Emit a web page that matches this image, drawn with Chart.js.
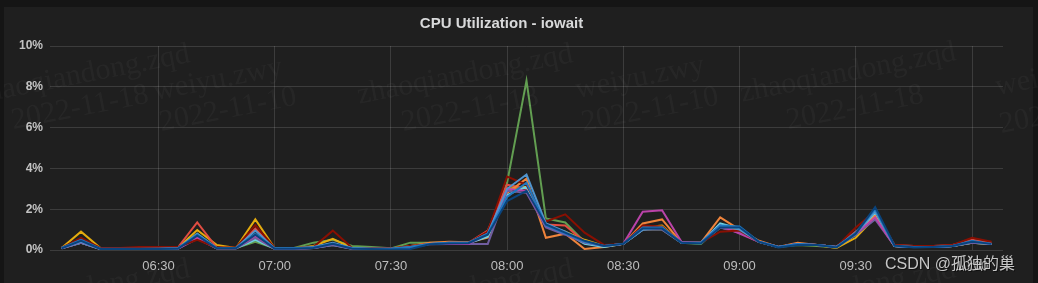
<!DOCTYPE html>
<html>
<head>
<meta charset="utf-8">
<title>CPU Utilization - iowait</title>
<script src="https://cdn.jsdelivr.net/npm/chart.js@4.4.1/dist/chart.umd.min.js"></script>
<style>
  html, body { margin: 0; padding: 0; background: #151515; }
  canvas { display: block; }
</style>
</head>
<body>
<canvas id="chart" width="1038" height="283"></canvas>
<script>
// ── data (5 minute samples, percent) ──────────────
const times = [
  '06:05','06:10','06:15','06:20','06:25','06:30','06:35','06:40','06:45','06:50',
  '06:55','07:00','07:05','07:10','07:15','07:20','07:25','07:30','07:35','07:40',
  '07:45','07:50','07:55','08:00','08:05','08:10','08:15','08:20','08:25','08:30',
  '08:35','08:40','08:45','08:50','08:55','09:00','09:05','09:10','09:15','09:20',
  '09:25','09:30','09:35','09:40','09:45','09:50','09:55','10:00','10:05'
];
const tickLabels = ['06:30','07:00','07:30','08:00','08:30','09:00','09:30','10:00'];
const yTicks = [0, 2, 4, 6, 8, 10];

const hostA = [0.08,0.45,0.05,0.05,0.05,0.05,0.06,0.70,0.08,0.08,0.75,0.06,0.06,0.10,0.30,0.06,0.05,0.03,0.05,0.28,0.32,0.33,0.75,2.40,2.90,1.25,0.85,0.45,0.20,0.30,1.05,1.05,0.35,0.32,1.10,1.10,0.40,0.12,0.25,0.25,0.12,0.80,2.10,0.22,0.12,0.15,0.20,0.40,0.30];
const hostB = [0.10,0.50,0.06,0.06,0.06,0.06,0.08,0.75,0.10,0.10,0.80,0.08,0.08,0.12,0.30,0.08,0.06,0.06,0.15,0.30,0.35,0.35,0.80,2.60,3.30,1.20,0.80,0.40,0.20,0.30,1.10,1.10,0.35,0.35,1.20,1.15,0.40,0.15,0.30,0.25,0.15,0.85,2.00,0.20,0.15,0.15,0.20,0.45,0.30];
const hostC = [0.10,0.40,0.05,0.05,0.05,0.06,0.08,0.80,0.10,0.10,0.95,0.08,0.08,0.15,0.35,0.10,0.06,0.06,0.15,0.30,0.35,0.35,0.80,3.00,3.70,1.30,0.90,0.40,0.20,0.30,1.00,1.10,0.35,0.35,1.20,1.00,0.40,0.15,0.30,0.25,0.15,0.80,1.90,0.20,0.15,0.15,0.20,0.40,0.30];
const hostD = [0.10,0.60,0.10,0.10,0.15,0.15,0.15,0.50,0.12,0.12,1.22,0.10,0.10,0.15,0.95,0.10,0.08,0.08,0.20,0.30,0.35,0.35,0.90,3.60,3.20,1.40,1.75,0.85,0.25,0.30,1.20,1.15,0.35,0.35,0.90,0.95,0.40,0.15,0.30,0.25,0.15,1.10,1.90,0.25,0.20,0.20,0.25,0.60,0.40];
const hostE = [0.10,0.35,0.06,0.06,0.06,0.06,0.08,0.80,0.10,0.10,0.40,0.08,0.10,0.36,0.50,0.20,0.15,0.08,0.36,0.35,0.35,0.35,0.70,3.30,8.30,1.55,1.35,0.40,0.20,0.30,1.00,1.00,0.35,0.30,1.10,1.00,0.40,0.15,0.25,0.20,0.12,0.80,1.80,0.20,0.15,0.15,0.20,0.35,0.30];
const hostF = [0.10,0.90,0.10,0.08,0.08,0.08,0.10,0.98,0.25,0.10,1.50,0.08,0.08,0.20,0.55,0.10,0.06,0.06,0.15,0.30,0.35,0.35,0.70,3.00,3.10,1.20,0.90,0.50,0.20,0.30,1.10,1.20,0.35,0.35,1.20,1.00,0.40,0.15,0.30,0.25,0.10,0.60,1.60,0.20,0.15,0.15,0.20,0.35,0.30];
const hostG = [0.10,0.50,0.05,0.05,0.08,0.10,0.12,1.35,0.12,0.10,1.05,0.08,0.08,0.12,0.30,0.08,0.06,0.06,0.15,0.30,0.35,0.35,0.95,3.20,3.00,1.25,1.20,0.40,0.20,0.30,1.20,1.10,0.35,0.35,1.10,0.90,0.40,0.15,0.30,0.25,0.15,0.90,1.70,0.25,0.20,0.20,0.25,0.50,0.35];
const hostH = [0.10,0.40,0.05,0.05,0.05,0.06,0.08,0.60,0.10,0.10,0.57,0.08,0.08,0.12,0.30,0.08,0.06,0.08,0.20,0.35,0.40,0.38,0.60,2.80,3.50,0.60,0.80,0.05,0.15,0.30,1.30,1.50,0.35,0.35,1.60,1.00,0.45,0.15,0.35,0.25,0.15,0.80,1.70,0.20,0.15,0.15,0.20,0.40,0.30];
const hostI = [0.08,0.40,0.05,0.05,0.05,0.05,0.06,0.60,0.08,0.08,0.70,0.06,0.06,0.10,0.30,0.06,0.05,0.05,0.12,0.30,0.30,0.30,0.80,3.00,2.90,1.20,0.80,0.40,0.20,0.30,1.88,1.95,0.40,0.35,1.20,0.80,0.40,0.15,0.30,0.25,0.15,0.80,1.60,0.20,0.15,0.15,0.20,0.40,0.30];
const hostJ = [0.08,0.35,0.05,0.05,0.05,0.05,0.06,0.55,0.08,0.08,0.60,0.06,0.06,0.10,0.25,0.06,0.05,0.05,0.12,0.28,0.30,0.30,0.30,2.90,2.80,1.10,0.75,0.35,0.20,0.30,1.00,1.00,0.35,0.35,1.10,0.85,0.40,0.15,0.30,0.25,0.15,0.75,1.50,0.20,0.15,0.15,0.20,0.35,0.30];
const hostK = [0.08,0.35,0.05,0.05,0.05,0.05,0.06,0.65,0.08,0.08,0.50,0.06,0.06,0.10,0.25,0.06,0.05,0.05,0.12,0.30,0.33,0.33,0.65,2.70,3.10,1.15,0.85,0.30,0.15,0.30,1.00,1.05,0.35,0.33,1.30,1.05,0.40,0.15,0.30,0.25,0.15,0.75,1.85,0.20,0.15,0.15,0.20,0.35,0.30];

const series = [
  { name: 'host-a', color: '#0A437C', data: hostA },
  { name: 'host-b', color: '#1F78C1', data: hostB },
  { name: 'host-c', color: '#5195CE', data: hostC },
  { name: 'host-d', color: '#890F02', data: hostD },
  { name: 'host-i', color: '#BA43A9', data: hostI },
  { name: 'host-j', color: '#705DA0', data: hostJ },
  { name: 'host-k', color: '#6ED0E0', data: hostK },
  { name: 'host-h', color: '#EF843C', data: hostH },
  { name: 'host-g', color: '#E24D42', data: hostG },
  { name: 'host-f', color: '#E5AC0E', data: hostF },
  { name: 'host-e', color: '#629E51', data: hostE },
];

const toMin = t => { const [h, m] = t.split(':').map(Number); return h * 60 + m; };
const fromMin = v => String(Math.floor(v / 60)).padStart(2, '0') + ':' + String(v % 60).padStart(2, '0');

// panel background + faint watermark + CSDN signature
const panel = {
  id: 'panel',
  beforeDraw(chart) {
    const c = chart.ctx;
    c.save();
    c.fillStyle = '#151515';
    c.fillRect(0, 0, chart.width, chart.height);
    c.fillStyle = '#1f1f1f';
    c.fillRect(4, 7, 1029, chart.height);
    c.restore();
  },
  afterDraw(chart) {
    const c = chart.ctx;
    c.save();
    c.font = '30px "Liberation Serif", serif';
    c.fillStyle = 'rgba(255,255,255,0.035)';
    c.textAlign = 'center';
    c.textBaseline = 'middle';
    const marks = [
      ['zhaoqiandong.zqd', 82, 75], ['2022-11-18', 80, 108],
      ['weiyu.zwy', 218, 80], ['2022-11-10', 228, 110],
      ['zhaoqiandong.zqd', 465, 75], ['2022-11-18', 470, 110],
      ['weiyu.zwy', 640, 78], ['2022-11-10', 650, 110],
      ['zhaoqiandong.zqd', 848, 73], ['2022-11-18', 855, 108],
      ['weiyu.zwy', 1060, 75], ['2022-11-10', 1068, 112],
      ['zhaoqiandong.zqd', 82, 290], ['zhaoqiandong.zqd', 465, 290], ['zhaoqiandong.zqd', 848, 290],
    ];
    marks.forEach(([t, x, y]) => {
      c.save();
      c.translate(x, y);
      c.rotate(-11 * Math.PI / 180);
      c.fillText(t, 0, 0);
      c.restore();
    });
    c.font = '16px "Liberation Sans", "Noto Sans CJK SC", sans-serif';
    c.textAlign = 'left';
    c.fillStyle = 'rgba(0,0,0,0.5)';
    c.fillText('CSDN @孤独的巢', 886, 266);
    c.fillStyle = 'rgba(222,222,222,0.88)';
    c.fillText('CSDN @孤独的巢', 885, 265);
    c.restore();
  }
};

new Chart(document.getElementById('chart'), {
  type: 'line',
  data: {
    datasets: series.map(s => ({
      label: s.name,
      data: times.map((t, i) => ({ x: toMin(t), y: s.data[i] })),
      borderColor: s.color,
      backgroundColor: s.color,
      borderWidth: 2,
      pointRadius: 0,
      tension: 0,
      fill: false,
    })),
  },
  options: {
    responsive: false,
    animation: false,
    devicePixelRatio: 1,
    layout: { padding: { left: 0, right: 35, top: 0, bottom: 0 } },
    plugins: {
      legend: { display: false },
      tooltip: { enabled: false },
      title: {
        display: true,
        text: 'CPU Utilization - iowait',
        color: '#d8d9da',
        font: { family: '"Liberation Sans", Arial, sans-serif', size: 15, weight: 'bold' },
        padding: { top: 15, bottom: 13 },
      },
    },
    scales: {
      x: {
        type: 'linear',
        min: toMin('06:02'),
        max: toMin('10:08'),
        afterBuildTicks: s => { s.ticks = tickLabels.map(t => ({ value: toMin(t) })); },
        afterFit: s => { s.height = 33; },
        grid: { color: 'rgba(255,255,255,0.13)', drawTicks: false },
        border: { display: false },
        ticks: {
          color: '#bdbdbd',
          font: { family: '"Liberation Sans", Arial, sans-serif', size: 13 },
          padding: 9,
          maxRotation: 0,
          callback: v => fromMin(v),
        },
      },
      y: {
        min: 0,
        max: 10,
        afterBuildTicks: s => { s.ticks = yTicks.map(v => ({ value: v })); },
        afterFit: s => { s.width = 50; },
        grid: { color: 'rgba(255,255,255,0.13)', drawTicks: false },
        border: { display: false },
        ticks: {
          color: '#c3c3c3',
          font: { family: '"Liberation Sans", Arial, sans-serif', size: 12, weight: 'bold' },
          padding: 7,
          callback: v => v + '%',
        },
      },
    },
  },
  plugins: [panel],
});
</script>
</body>
</html>
